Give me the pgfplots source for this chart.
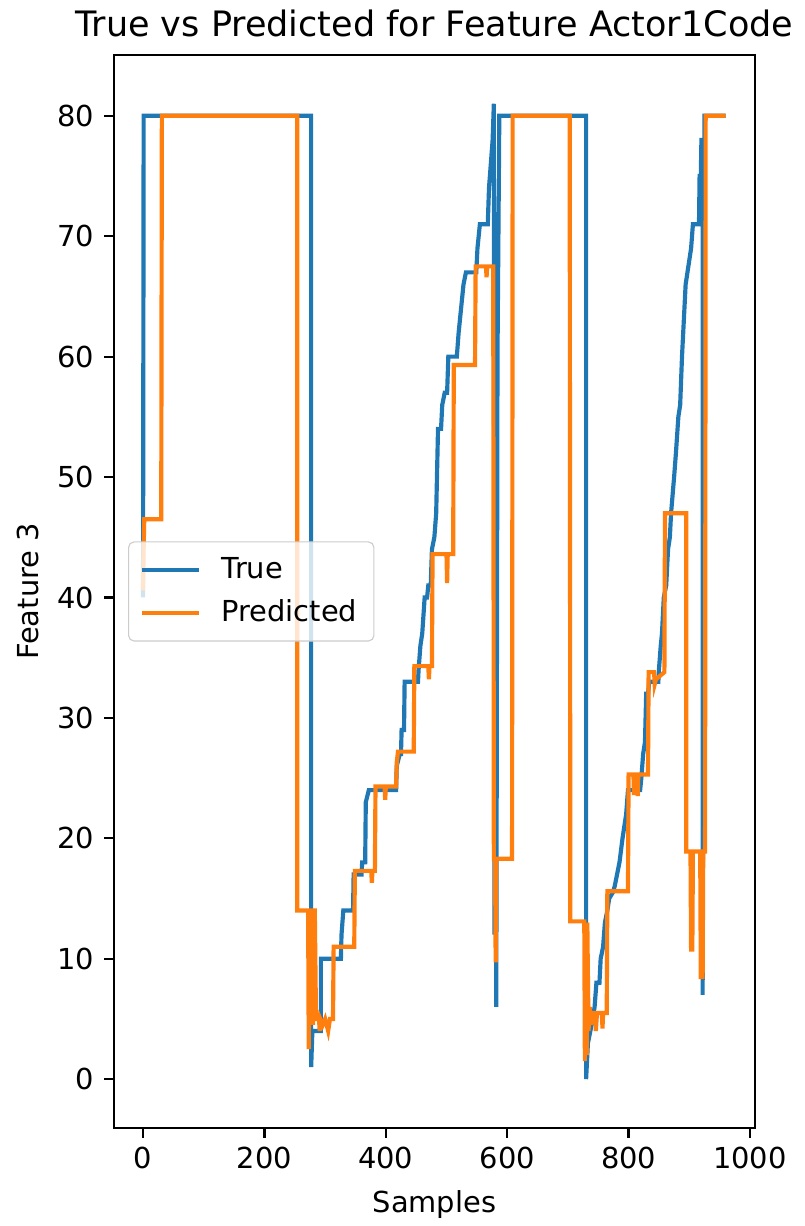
\documentclass[border=0pt]{standalone}
\usepackage{fontspec}
\setmainfont{DejaVu Sans}
\usepackage{pgfplots}
\pgfplotsset{compat=1.18}
\definecolor{tabblue}{HTML}{1F77B4}
\definecolor{taborange}{HTML}{FF7F0E}
\newcommand{\lblfont}{\fontsize{10.4}{12.5}\selectfont}
\begin{document}
\begin{tikzpicture}
\useasboundingbox (0,0) rectangle (289.4pt,441.3pt);
\begin{axis}[
  at={(41pt,35.3pt)}, anchor=south west,
  scale only axis, width=230.7pt, height=386.2pt,
  xmin=-48, xmax=1008, ymin=-4.05, ymax=85.05,
  xtick={0,200,400,600,800,1000},
  ytick={0,10,20,30,40,50,60,70,80},
  tick align=outside, tick pos=left,
  major tick length=3.5pt,
  every tick/.style={black, line width=0.8pt},
  axis line style={line width=0.8pt},
  /pgf/number format/assume math mode=true,
  /pgf/number format/set thousands separator={},
  tick label style={font=\lblfont},
  title={True vs Predicted for Feature Actor1Code},
  title style={font=\fontsize{12.6}{15}\selectfont, at={(axis description cs:0.5,1)}, anchor=base, yshift=0.5pt},
  xlabel={Samples},
  xlabel style={font=\lblfont, at={(axis description cs:0.5,0)}, anchor=base, yshift=-30.5pt},
  ylabel={Feature 3},
  ylabel style={font=\lblfont, at={(axis description cs:-0.134,0.5)}, anchor=center},
  legend cell align=left,
  legend style={at={(0.022,0.5)}, anchor=west, draw=black!20, rounded corners=2pt,
    fill=white, fill opacity=0.8, text opacity=1, draw opacity=1,
    inner xsep=4pt, inner ysep=3.5pt, row sep=2.2pt, column sep=5.5pt, font=\lblfont},
  legend image code/.code={\draw[#1,line width=1.5pt] (0pt,0pt) -- (20.5pt,0pt);},
]
\addplot[tabblue, line width=1.5pt] coordinates {
(0,40) (1,80) (277,80) (277,1) (279,4) (293,4) (293,10) (326,10) (327,12) (330,14) (346,14) (347,17) (360,17) (361,18) (366,18) (367,23) (372,24) (417,24) (418,26) (423,27) (425,27) (426,29) (430,29) (431,33) (453,33) (454,34) (457,36) (460,37) (464,40) (468,40) (470,41) (474,41) (476,44) (480,45) (483,47) (486,54) (491,54) (493,56) (497,57) (501,57) (503,60) (517,60) (520,62) (524,64) (528,66) (532,67) (549,67) (551,69) (555,71) (568,71) (570,74) (573,76) (576,78) (578,81) (579,12) (581,40) (582,6) (584,60) (587,80) (730,80) (730,0) (733,3) (737,4) (741,5) (744,6) (747,8) (752,8) (754,10) (758,11) (761,13) (765,14) (768,15) (774,15.5) (777,16) (785,18) (790,20) (796,22) (799,24) (819,24) (821,25) (824,27) (827,28) (829,32) (832,32) (834,33) (849,33) (850,34) (853,36) (855,37) (858,40) (862,41) (865,44) (868,45) (870,47) (875,50) (878,52) (882,55) (885,56) (888,60) (891,63) (894,66) (897,67) (900,68) (903,69) (906,71) (916,71) (917,75) (919,75) (920,78) (922,78) (922,7) (925,80) (960,80)
};
\addlegendentry{True}
\addplot[taborange, line width=1.5pt] coordinates {
(0,40.6) (1,44) (2,46.5) (30,46.5) (31,80) (254,80) (254,14) (272,14) (273,2.5) (275,14) (279,14) (280,4.5) (281,14) (283,14) (285,5) (290,5) (291,4) (292,5) (296,4.5) (300,5) (305,4) (308,5) (313,5) (314,11) (348,11) (349,17.3) (376,17.3) (377,16.3) (378,17.3) (382,17.3) (383,24.3) (398,24.3) (399,23.2) (400,24.3) (417,24.3) (418,26.3) (420,27.2) (446,27.2) (447,34.3) (470,34.3) (471,33.2) (472,34.3) (476,34.3) (477,43.6) (500,43.6) (501,41.2) (502,43.6) (511,43.6) (512,59.3) (547,59.3) (548,67.5) (565,67.5) (566,66.6) (567,67.5) (577,67.5) (578,18.3) (580,18.3) (581,9.7) (582,18.3) (608,18.3) (609,80) (703,80) (704,13.1) (727,13.1) (728,1.5) (729,13) (731,2) (732,13) (734,4) (736,6) (738,4.5) (740,5.5) (745,5.5) (746,4) (748,5.5) (756,5.5) (757,4.2) (758,5.5) (764,5.5) (765,15.6) (799,15.6) (800,25.3) (808,25.3) (809,23.6) (810,25.3) (814,25.3) (815,23.5) (816,25.3) (832,25.3) (833,33.8) (842,33.8) (843,32.8) (845,33.2) (859,33.8) (860,47) (895,47) (895,18.9) (902,18.9) (903,10.6) (904,18.9) (905,10.6) (906,18.9) (918,18.9) (919,8.3) (920,18.9) (922,8.3) (923,18.9) (926,18.9) (927,80) (960,80)
};
\addlegendentry{Predicted}
\end{axis}
\end{tikzpicture}
\end{document}
